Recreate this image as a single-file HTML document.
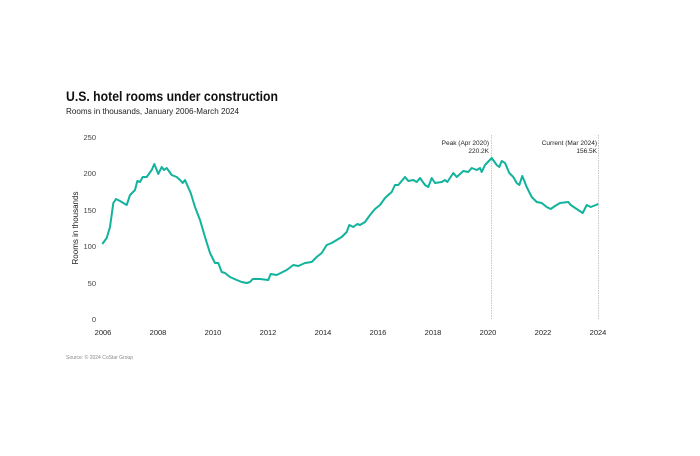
<!DOCTYPE html>
<html><head><meta charset="utf-8"><style>
html,body{margin:0;padding:0;background:#fff;}
svg{display:block;font-family:"Liberation Sans",sans-serif;}
</style></head><body>
<svg width="700" height="456" viewBox="0 0 700 456" xmlns="http://www.w3.org/2000/svg">
<rect width="700" height="456" fill="#fff"/>
<text x="66" y="101" font-size="14" font-weight="bold" fill="#111" textLength="212" lengthAdjust="spacingAndGlyphs">U.S. hotel rooms under construction</text>
<text x="66" y="114" font-size="8.5" fill="#222" textLength="173" lengthAdjust="spacingAndGlyphs">Rooms in thousands, January 2006-March 2024</text>
<g font-size="7.5" fill="#444" text-anchor="end">
<text x="96" y="140">250</text><text x="96" y="176">200</text><text x="96" y="213">150</text>
<text x="96" y="249">100</text><text x="96" y="286">50</text><text x="96" y="322">0</text>
</g>
<g font-size="7.5" fill="#222" text-anchor="middle">
<text x="103" y="335">2006</text><text x="158" y="335">2008</text><text x="213" y="335">2010</text>
<text x="268" y="335">2012</text><text x="323" y="335">2014</text><text x="378" y="335">2016</text>
<text x="433" y="335">2018</text><text x="488" y="335">2020</text><text x="543" y="335">2022</text>
<text x="598" y="335">2024</text>
</g>
<text transform="translate(78,228) rotate(-90)" font-size="8" fill="#222" text-anchor="middle">Rooms in thousands</text>
<line x1="491.5" y1="135" x2="491.5" y2="320" stroke="#bbb" stroke-width="0.8" stroke-dasharray="1.5,1"/>
<line x1="598.5" y1="135" x2="598.5" y2="320" stroke="#bbb" stroke-width="0.8" stroke-dasharray="1.5,1"/>
<g font-size="6.5" fill="#222" text-anchor="end">
<text x="489" y="145">Peak (Apr 2020)</text><text x="489" y="153">220.2K</text>
<text x="597" y="145">Current (Mar 2024)</text><text x="597" y="153">156.5K</text>
</g>
<text x="66" y="359" font-size="5" fill="#888">Source: © 2024 CoStar Group</text>
<polyline fill="none" stroke="#12b39c" stroke-width="2" stroke-linejoin="round" points="102.3,244 106.7,238 110,227 113.3,203 116,199 120,201 126.7,205 130,195 135,190 137.3,181 140,182 142.7,177 146.7,177 151.7,170 154.3,164 158.3,174 161.7,167 164,170 166.7,168 171.7,175 176.7,177 180,180 182.7,183 185,180 190.7,193 195,207 200,220 205,237 210,253 215,263 218.3,263 221.7,272 225,273 230,277 236.7,280 241.7,282 246.7,283 250,282 252.7,279 260,279 268.3,280 270.7,274 276.7,275 282.7,272 286.7,270 293.3,265 298.3,266 305,263 311.7,262 316.7,257 321.7,253 326.7,245 331.7,243 336.7,240 341.7,237 346.7,232 349.3,225 353.3,227 357.3,224 360,225 365,222 370,215 375,209 380,205 385,198 388.3,195 391.7,192 395,185 398.3,185 405,177 408.3,181 413.3,180 416.7,182 420,178 425,185 428.3,187 431.7,178 435,183 441.7,182 445,180 447.3,182 453.3,173 456.7,177 463.3,171 468.3,172 471.7,168 476.7,170 480,168 481.7,172 485,165 491.7,158 496.7,165 499.3,167 501.7,161 505,163 509.3,173 513.3,177 516.7,183 519.3,185 522.3,176 526.7,187 531.7,197 536.7,202 541.7,203 546.7,207 550.7,209 555,206 560,203 568.3,202 570.7,205 576.7,209 582.7,213 586.7,205 590.7,207 593.3,206 598.3,204"/>
</svg>
</body></html>
